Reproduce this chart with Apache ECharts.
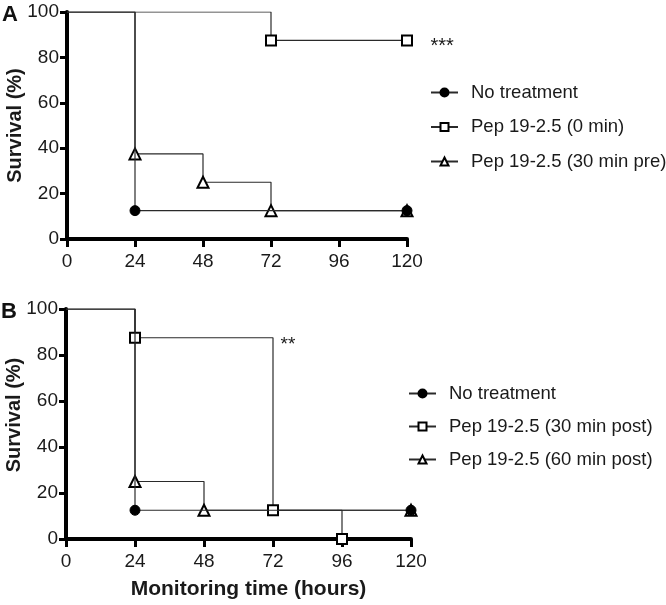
<!DOCTYPE html>
<html>
<head>
<meta charset="utf-8">
<script src="https://cdn.jsdelivr.net/npm/echarts@6/dist/echarts.min.js"></script>
<style>
html,body{margin:0;padding:0;background:#fff;}
#chart{width:666px;height:605px;}
</style>
</head>
<body>
<div id="chart"></div>
<script>
// ---- Data (hours, survival %) ----
const xTicks = [0, 24, 48, 72, 96, 120];
const yTicks = [0, 20, 40, 60, 80, 100];

// Panel A
const aNoTreatX = [0, 24, 120];
const aNoTreatY = [100, 12.5, 12.5];
const aPep0X = [0, 72, 120];
const aPep0Y = [100, 87.5, 87.5];
const aPep30preX = [0, 24, 48, 72, 120];
const aPep30preY = [100, 37.5, 25, 12.5, 12.5];

// Panel B
const bNoTreatX = [0, 24, 120];
const bNoTreatY = [100, 12.5, 12.5];
const bPep30postX = [0, 24, 72, 96];
const bPep30postY = [100, 87.5, 12.5, 0];
const bPep60postX = [0, 24, 48, 120];
const bPep60postY = [100, 25, 12.5, 12.5];

const namesA = ['No treatment', 'Pep 19-2.5 (0 min)', 'Pep 19-2.5 (30 min pre)'];
const namesB = ['No treatment', 'Pep 19-2.5 (30 min post)', 'Pep 19-2.5 (60 min post)'];

function pts(xs, ys) {
  return xs.map((x, i) => i === 0 ? { value: [x, ys[i]], symbol: 'none' } : [x, ys[i]]);
}

const FONT = 'Liberation Sans, Arial, Helvetica, sans-serif';
const lineCol = '#2a2a2a';

const styles = {
  circle: { symbol: 'circle', symbolSize: 10, itemStyle: { color: '#000', borderColor: '#000', borderWidth: 1 } },
  square: { symbol: 'rect', symbolSize: 10, itemStyle: { color: '#fff', borderColor: '#000', borderWidth: 2 } },
  triangle: { symbol: 'triangle', symbolSize: 11, itemStyle: { color: '#fff', borderColor: '#000', borderWidth: 2 } }
};

function mkSeries(name, xs, ys, idx, st, z, extra) {
  return Object.assign({
    name: name,
    type: 'line',
    step: 'end',
    xAxisIndex: idx,
    yAxisIndex: idx,
    data: pts(xs, ys),
    symbol: st.symbol,
    symbolSize: st.symbolSize,
    showAllSymbol: true,
    itemStyle: st.itemStyle,
    lineStyle: { color: lineCol, width: 1.2 },
    z: z,
    animation: false
  }, extra || {});
}

const AXW = 4;

function xAxisCfg(idx, withName) {
  const cfg = {
    type: 'value', gridIndex: idx, min: 0, max: 120, interval: 24,
    axisLine: { show: true, onZero: false, lineStyle: { color: '#000', width: AXW } },
    axisTick: { show: true, length: 8, lineStyle: { color: '#000', width: 3 } },
    axisLabel: { fontSize: 19, color: '#1a1a1a', fontFamily: FONT, margin: 13 },
    splitLine: { show: false }
  };
  if (withName) {
    cfg.name = 'Monitoring time (hours)';
    cfg.nameLocation = 'middle';
    cfg.nameGap = 40;
    cfg.nameMoveOverlap = false;
    cfg.nameTextStyle = { fontSize: 21, fontWeight: 'bold', color: '#1a1a1a', fontFamily: FONT, padding: [0, 0, 0, 20] };
  }
  return cfg;
}

function yAxisCfg(idx, pad) {
  return {
    type: 'value', gridIndex: idx, min: 0, max: 100, interval: 20,
    name: 'Survival (%)', nameLocation: 'middle', nameGap: 42, nameMoveOverlap: false,
    nameTextStyle: { fontSize: 20, fontWeight: 'bold', color: '#1a1a1a', fontFamily: FONT, padding: pad },
    axisLine: { show: true, lineStyle: { color: '#000', width: AXW } },
    axisTick: { show: true, length: 7, lineStyle: { color: '#000', width: 3 } },
    axisLabel: { fontSize: 19, color: '#1a1a1a', fontFamily: FONT, margin: 8 },
    splitLine: { show: false }
  };
}

function legendCfg(names, left, top, gap) {
  return {
    data: names,
    orient: 'vertical',
    left: left, top: top,
    padding: 0,
    itemWidth: 27, itemHeight: 10, itemGap: gap,
    textStyle: { fontSize: 18.5, color: '#1a1a1a', fontFamily: FONT, padding: [0, 0, 0, 8] },
    selectedMode: false
  };
}

const chart = echarts.init(document.getElementById('chart'), null, { renderer: 'canvas' });
chart.setOption({
  animation: false,
  backgroundColor: '#fff',
  grid: [
    { left: 67, top: 12, width: 340, height: 227, outerBoundsMode: 'none', containLabel: false },
    { left: 66, top: 309, width: 345, height: 230, outerBoundsMode: 'none', containLabel: false }
  ],
  xAxis: [xAxisCfg(0, false), xAxisCfg(1, true)],
  yAxis: [yAxisCfg(0, [0, 0, 0, 0]), yAxisCfg(1, [0, 0, 0, 18])],
  legend: [legendCfg(namesA, 430, 83, 15.5), legendCfg(namesB, 408, 384, 14)],
  graphic: [
    { type: 'text', left: 2, top: 4, style: { text: 'A', fontSize: 22, fontWeight: 'bold', fill: '#111', fontFamily: FONT } },
    { type: 'text', left: 1, top: 301, style: { text: 'B', fontSize: 22, fontWeight: 'bold', fill: '#111', fontFamily: FONT } }
  ],
  series: [
    mkSeries(namesA[2], aPep30preX, aPep30preY, 0, styles.triangle, 2),
    mkSeries(namesA[1], aPep0X, aPep0Y, 0, styles.square, 3, {
      markPoint: {
        symbol: 'circle', symbolSize: 1, itemStyle: { color: 'rgba(0,0,0,0)' },
        label: { show: true, position: 'right', distance: 23, offset: [0, 6], formatter: '***', fontSize: 20, color: '#1a1a1a', fontFamily: FONT },
        data: [{ coord: [120, 87.5] }]
      }
    }),
    mkSeries(namesA[0], aNoTreatX, aNoTreatY, 0, styles.circle, 4),
    mkSeries(namesB[2], bPep60postX, bPep60postY, 1, styles.triangle, 2),
    mkSeries(namesB[1], bPep30postX, bPep30postY, 1, styles.square, 3, {
      markPoint: {
        symbol: 'circle', symbolSize: 1, itemStyle: { color: 'rgba(0,0,0,0)' },
        label: { show: true, position: 'right', distance: 7, offset: [0, 7], formatter: '**', fontSize: 19, color: '#1a1a1a', fontFamily: FONT },
        data: [{ coord: [72, 87.5] }]
      }
    }),
    mkSeries(namesB[0], bNoTreatX, bNoTreatY, 1, styles.circle, 4)
  ]
});
</script>
</body>
</html>
